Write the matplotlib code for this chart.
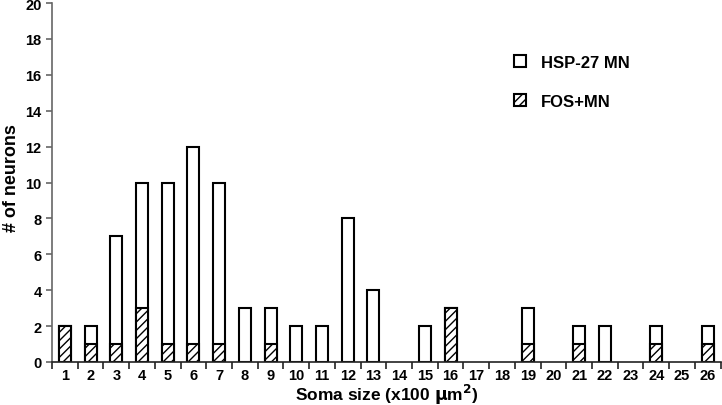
import matplotlib.pyplot as plt
from matplotlib.patches import Patch

plt.rcParams['font.family'] = ['Liberation Sans', 'DejaVu Sans']
plt.rcParams['font.weight'] = 'bold'
plt.rcParams['hatch.linewidth'] = 1.0

# Soma size bins (x100 um^2)
bins = list(range(1, 27))

# Number of HSP-27 positive motor neurons per bin
hsp27 = [2, 2, 7, 10, 10, 12, 10, 3, 3, 2, 2, 8, 4, 0, 2, 3, 0, 0, 3, 0, 2, 2, 0, 2, 0, 2]

# Number of FOS positive motor neurons per bin
fos = [2, 1, 1, 3, 1, 1, 1, 0, 1, 0, 0, 0, 0, 0, 0, 3, 0, 0, 1, 0, 1, 0, 0, 1, 0, 1]

fig = plt.figure(figsize=(7.22, 4.06), dpi=100)
ax = fig.add_axes([0.072, 0.106, 0.926, 0.884])

# empty bins are not drawn at all
hsp_x = [b for b, v in zip(bins, hsp27) if v > 0]
hsp_y = [v for v in hsp27 if v > 0]
fos_x = [b for b, v in zip(bins, fos) if v > 0]
fos_y = [v for v in fos if v > 0]

ax.bar(hsp_x, hsp_y, width=0.47, color='white', edgecolor='black', linewidth=1.5)
ax.bar(fos_x, fos_y, width=0.47, color='white', edgecolor='black', linewidth=1.5, hatch='////')

ax.set_xlim(0.5, 26.5)
ax.set_ylim(0, 20)

ax.spines['top'].set_visible(False)
ax.spines['right'].set_visible(False)
ax.spines['left'].set_color('#666666')
ax.spines['left'].set_linewidth(1.2)
ax.spines['bottom'].set_color('#222222')
ax.spines['bottom'].set_linewidth(1.2)

# Category labels centred, tick marks between categories
ax.set_xticks(bins)
ax.set_xticklabels([str(b) for b in bins], fontsize=10.5, fontweight='bold')
ax.tick_params(axis='x', which='major', length=0, pad=4)
ax.set_xticks([b + 0.5 for b in [0] + bins], minor=True)
ax.tick_params(axis='x', which='minor', length=5, width=1.2, color='#222222')

ax.set_yticks(range(0, 21, 2))
ax.set_yticklabels([str(v) for v in range(0, 21, 2)], fontsize=10.5, fontweight='bold')
ax.tick_params(axis='y', length=4, width=1.2, color='#666666', pad=3.5)

ax.set_xlabel('Soma size (x100 $\\mathbf{\\mu}$m$^{\\mathbf{2}}$)', fontsize=12.5, fontweight='bold', labelpad=0)
ax.set_ylabel('# of neurons', fontsize=13, fontweight='bold')
ax.yaxis.set_label_coords(-0.048, 0.515)

handles = [
    Patch(facecolor='white', edgecolor='black', linewidth=1.5, label='HSP-27 MN'),
    Patch(facecolor='white', edgecolor='black', linewidth=1.5, hatch='////', label='FOS+MN'),
]
ax.legend(handles=handles, loc='upper left', bbox_to_anchor=(0.678, 0.878), frameon=False,
          handlelength=0.75, handleheight=0.75, handletextpad=0.9, labelspacing=1.4,
          borderpad=0, prop={'weight': 'bold', 'size': 12})

fig.savefig('out.png', dpi=100)
